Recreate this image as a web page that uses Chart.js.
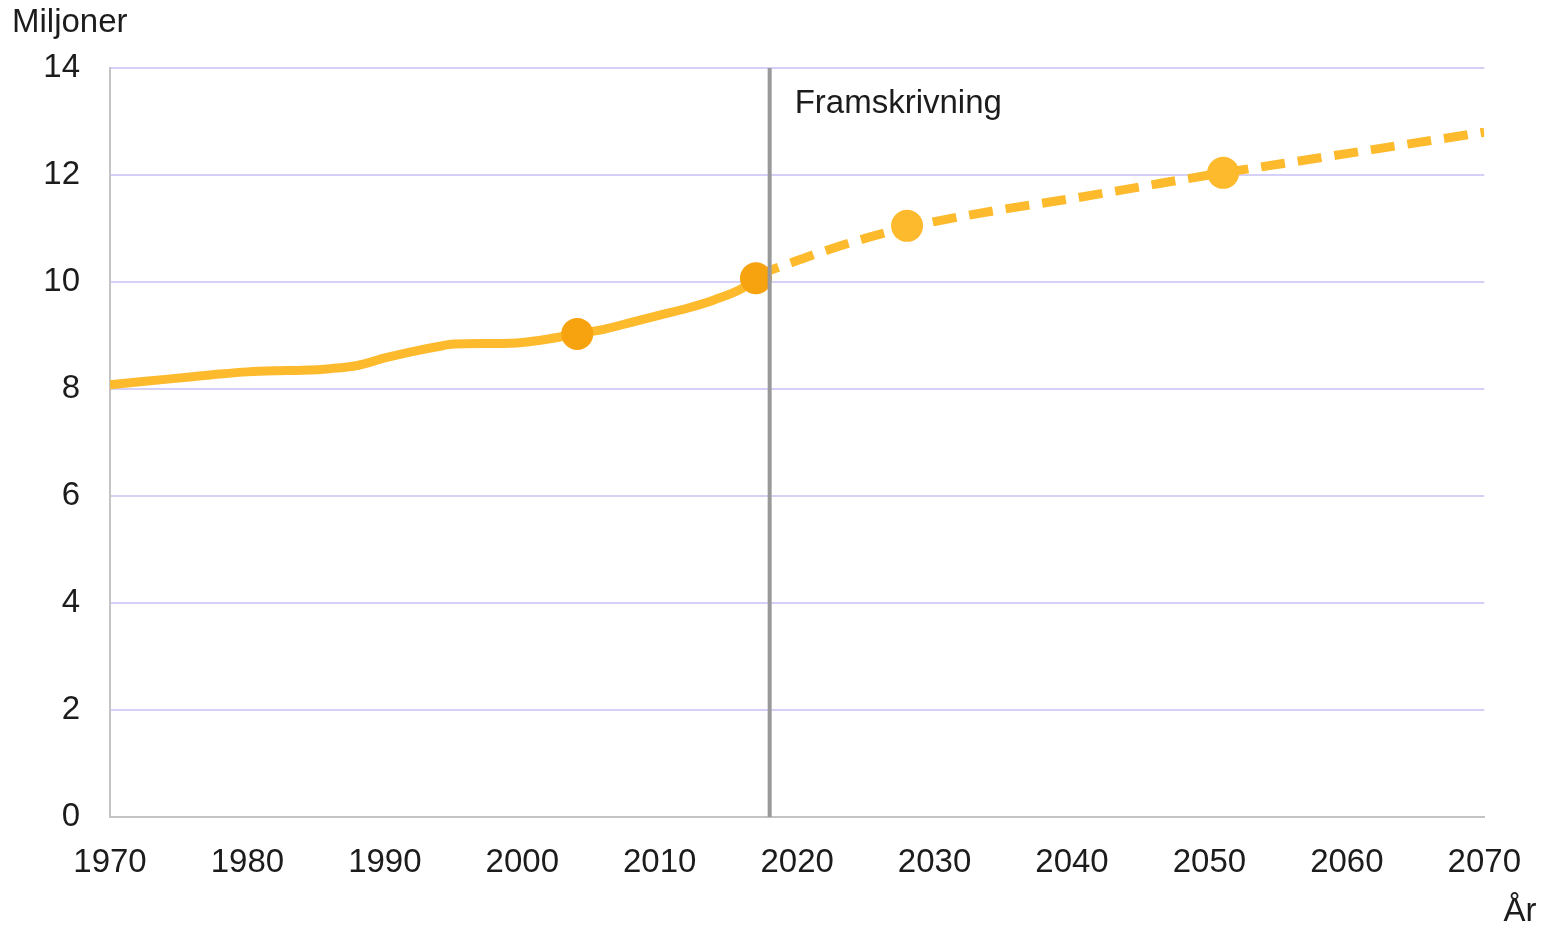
<!DOCTYPE html>
<html>
<head>
<meta charset="utf-8">
<script src="https://cdn.jsdelivr.net/npm/chart.js@4.4.1/dist/chart.umd.min.js"></script>
<style>
  body { margin: 0; background: #fff; }
</style>
</head>
<body>
<canvas id="popChart" width="1547" height="927"></canvas>
<script>
// Historical population (millions)
const histYears = [1970, 1972, 1974, 1976, 1978, 1980, 1982, 1984, 1986, 1988, 1990, 1992, 1994, 1995, 1998, 2000, 2002, 2004, 2006, 2008, 2010, 2012, 2014, 2016, 2017];
const histValues = [8.08, 8.13, 8.18, 8.23, 8.28, 8.32, 8.34, 8.35, 8.38, 8.44, 8.58, 8.70, 8.80, 8.84, 8.85, 8.87, 8.94, 9.03, 9.12, 9.25, 9.38, 9.51, 9.67, 9.88, 10.07];

// Projection (framskrivning)
const projYears = [2017, 2020, 2022, 2025, 2028, 2030, 2035, 2040, 2045, 2050, 2055, 2060, 2065, 2070];
const projValues = [10.12, 10.40, 10.58, 10.82, 11.02, 11.13, 11.36, 11.56, 11.78, 12.0, 12.2, 12.4, 12.6, 12.8];

// Highlighted markers
const markerYears = [2004, 2017, 2028, 2051];
const markerValues = [9.03, 10.07, 11.05, 12.04];
const markerColors = ['#F7A30F', '#F7A30F', '#FDBA2C', '#FDBA2C'];

const projectionStart = 2018;
const xTicks = [1970, 1980, 1990, 2000, 2010, 2020, 2030, 2040, 2050, 2060, 2070];

const toXY = (xs, ys) => xs.map((x, i) => ({ x: x, y: ys[i] }));

const textColor = '#1c1c1c';
const fontFamily = '"Liberation Sans", Arial, sans-serif';

// Vertical projection line, labels
const extras = {
    id: 'extras',
    afterDatasetsDraw(chart) {
        const ctx = chart.ctx;
        const area = chart.chartArea;
        const x = chart.scales.x.getPixelForValue(projectionStart);
        ctx.save();
        ctx.strokeStyle = '#999999';
        ctx.lineWidth = 4;
        ctx.beginPath();
        ctx.moveTo(x, area.top);
        ctx.lineTo(x, area.bottom);
        ctx.stroke();

        ctx.fillStyle = textColor;
        ctx.font = '33px ' + fontFamily;
        ctx.textBaseline = 'middle';
        ctx.textAlign = 'left';
        ctx.fillText('Framskrivning', x + 25, 104);
        ctx.fillText('Miljoner', 12, 23);
        ctx.textAlign = 'center';
        ctx.fillText('År', 1520, 912);
        ctx.restore();
    }
};

new Chart(document.getElementById('popChart'), {
    type: 'scatter',
    data: {
        datasets: [
            {
                data: toXY(histYears, histValues),
                showLine: true,
                borderColor: '#FDBA2C',
                borderWidth: 9,
                pointRadius: 0,
                cubicInterpolationMode: 'monotone',
                order: 2
            },
            {
                data: toXY(projYears, projValues),
                showLine: true,
                borderColor: '#FDBA2C',
                borderWidth: 9,
                borderDash: [24, 13],
                pointRadius: 0,
                cubicInterpolationMode: 'monotone',
                order: 2
            },
            {
                data: toXY(markerYears, markerValues),
                showLine: false,
                pointRadius: 16,
                pointBackgroundColor: markerColors,
                pointBorderWidth: 0,
                order: 1
            }
        ]
    },
    options: {
        responsive: false,
        animation: false,
        layout: { padding: { top: 68, right: 61, left: 0, bottom: 0 } },
        plugins: {
            legend: { display: false },
            tooltip: { enabled: false }
        },
        scales: {
            x: {
                type: 'linear',
                min: 1970,
                max: 2070,
                afterBuildTicks: (scale) => { scale.ticks = xTicks.map(v => ({ value: v })); },
                afterFit: (scale) => { scale.height = 110; },
                grid: { display: false, drawTicks: false },
                border: { display: true, color: '#c4c4c4', width: 2 },
                ticks: {
                    color: textColor,
                    font: { family: fontFamily, size: 33 },
                    padding: 26,
                    maxRotation: 0,
                    autoSkip: false,
                    callback: (v) => String(v)
                }
            },
            y: {
                min: 0,
                max: 14,
                afterFit: (scale) => { scale.width = 110; },
                grid: { color: '#D4D0F7', lineWidth: 2, drawTicks: false },
                border: { display: true, color: '#c4c4c4', width: 2 },
                ticks: {
                    stepSize: 2,
                    color: textColor,
                    font: { family: fontFamily, size: 33 },
                    padding: 30
                }
            }
        }
    },
    plugins: [extras]
});
</script>
</body>
</html>
